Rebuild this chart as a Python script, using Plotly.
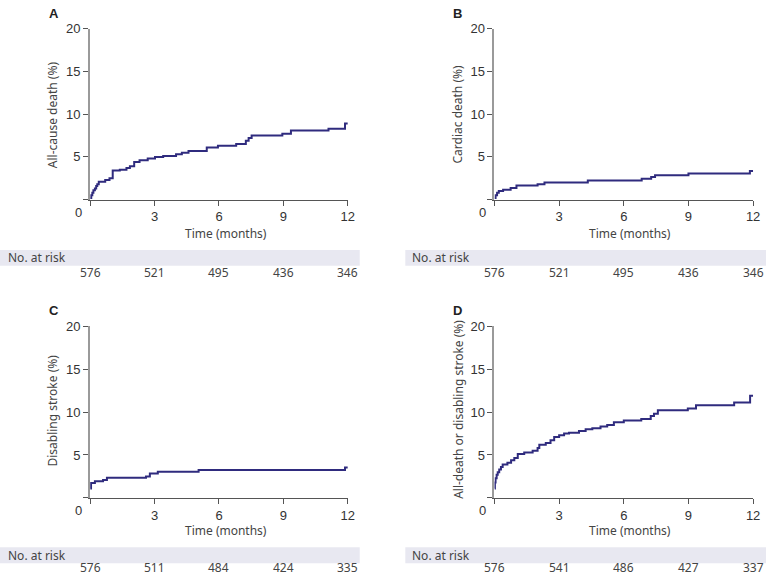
import plotly.graph_objects as go

# ---------------- data ----------------
months_ticks = [0, 3, 6, 9, 12]

tA = [0, 0.05, 0.1, 0.15, 0.22, 0.28, 0.33, 0.4, 0.7, 0.9, 1.05, 1.38, 1.69, 1.85, 2.05, 2.3, 2.68,
      3.02, 3.4, 4.0, 4.27, 4.58, 5.43, 5.95, 6.8, 7.25, 7.38, 7.52, 8.95, 9.35, 11.1, 11.87, 12.0]
yA = [0.2, 0.5, 0.8, 1.1, 1.3, 1.6, 1.8, 2.1, 2.3, 2.5, 3.4, 3.5, 3.7, 3.9, 4.4, 4.6, 4.8,
      5.0, 5.1, 5.3, 5.5, 5.7, 6.1, 6.3, 6.5, 6.9, 7.2, 7.5, 7.7, 8.1, 8.3, 8.9, 8.9]

tB = [0, 0.05, 0.12, 0.2, 0.4, 0.75, 1.02, 2.0, 2.32, 4.33, 6.83, 7.27, 7.45, 9.0, 11.85, 12.0]
yB = [0.2, 0.5, 0.8, 1.0, 1.15, 1.35, 1.65, 1.8, 2.0, 2.25, 2.45, 2.65, 2.85, 3.05, 3.35, 3.35]

tC = [0, 0.04, 0.22, 0.6, 0.78, 2.6, 2.78, 3.15, 5.05, 11.87, 12.0]
yC = [1.1, 1.75, 1.95, 2.1, 2.35, 2.5, 2.85, 3.05, 3.25, 3.55, 3.55]

tD = [0, 0.02, 0.05, 0.1, 0.15, 0.22, 0.3, 0.38, 0.6, 0.77, 0.92, 1.08, 1.38, 1.77, 2.0, 2.08,
      2.38, 2.6, 2.77, 3.0, 3.23, 3.46, 3.92, 4.23, 4.54, 4.92, 5.23, 5.54, 6.0, 6.81, 7.25, 7.4,
      7.58, 8.97, 9.35, 11.12, 11.86, 12.0]
yD = [1.1, 1.8, 2.3, 2.7, 3.0, 3.3, 3.6, 3.9, 4.1, 4.4, 4.65, 5.1, 5.3, 5.5, 5.8, 6.2,
      6.4, 6.7, 7.1, 7.3, 7.5, 7.6, 7.8, 8.0, 8.1, 8.3, 8.5, 8.8, 9.0, 9.2, 9.55, 9.8,
      10.2, 10.4, 10.8, 11.1, 11.9, 11.9]

riskA = [576, 521, 495, 436, 346]
riskB = [576, 521, 495, 436, 346]
riskC = [576, 511, 484, 424, 335]
riskD = [576, 541, 486, 427, 337]

letters = ["A", "B", "C", "D"]
ytitles = ["All-cause death (%)", "Cardiac death (%)", "Disabling stroke (%)",
           "All-death or disabling stroke (%)"]
xtitle = "Time (months)"
risk_label = "No. at risk"

# ---------------- layout helpers ----------------
W, H = 773, 576
def px_x(p): return p / W
def px_y(p): return 1 - p / H

LINE = "#2f2b7e"
TICKFONT = dict(family="Liberation Sans, Arial, sans-serif", size=13, color="#333333")
TXTFONT = dict(family="Noto Sans, sans-serif", size=12, color="#444444")
RISKFONT = dict(family="Noto Sans, sans-serif", size=12, color="#444444")

panels = [
    dict(t=tA, y=yA, risk=riskA, x0=91, x1=351, ytop=22, ybot=195, band=(0, 363, 246, 262),
         letter=(54, 7), ytit=(53, 109), xtit=(228, 229), risky=269, nar=6),
    dict(t=tB, y=yB, risk=riskB, x0=499, x1=760, ytop=22, ybot=195, band=(409, 773, 246, 262),
         letter=(462, 7), ytit=(462, 109), xtit=(636, 229), risky=269, nar=414),
    dict(t=tC, y=yC, risk=riskC, x0=91, x1=351, ytop=323, ybot=497, band=(0, 363, 547, 563),
         letter=(54, 307), ytit=(53, 409), xtit=(228, 530), risky=567, nar=6),
    dict(t=tD, y=yD, risk=riskD, x0=499, x1=760, ytop=323, ybot=497, band=(409, 773, 547, 563),
         letter=(462, 307), ytit=(462, 407), xtit=(636, 530), risky=567, nar=414),
]

fig = go.Figure()
layout = dict(width=W, height=H, margin=dict(l=0, r=0, t=0, b=0), autosize=False,
              paper_bgcolor="white", plot_bgcolor="white", showlegend=False)
annotations = []
shapes = []

for i, p in enumerate(panels):
    n = "" if i == 0 else str(i + 1)
    xa, ya = "x" + n, "y" + n
    fig.add_trace(go.Scatter(x=p["t"], y=p["y"], mode="lines", line_shape="hv",
                             line=dict(color=LINE, width=2), xaxis=xa, yaxis=ya,
                             hoverinfo="skip"))
    layout["xaxis" + n] = dict(
        domain=[px_x(p["x0"]), px_x(p["x1"])], range=[0, 12], anchor=ya,
        tickvals=months_ticks, ticktext=["" if v == 0 else str(v) for v in months_ticks],
        ticks="outside", ticklen=5, tickcolor="#555555", tickwidth=1,
        showline=True, linecolor="#555555", linewidth=1, showgrid=False, zeroline=False,
        tickfont=TICKFONT, fixedrange=True)
    layout["yaxis" + n] = dict(
        domain=[px_y(p["ybot"]), px_y(p["ytop"])], range=[0, 20], anchor=xa,
        tickvals=[0, 5, 10, 15, 20], ticktext=["", "5", "10", "15", "20"],
        ticks="outside", ticklen=5, tickcolor="#555555", tickwidth=1,
        showline=True, linecolor="#9a9a9a", linewidth=2, showgrid=False, zeroline=False,
        tickfont=TICKFONT, fixedrange=True)

    annotations.append(dict(x=px_x(p["x0"] - 12), y=px_y(p["ybot"] + 13), xref="paper", yref="paper",
                            text="0", showarrow=False, font=TICKFONT, xanchor="center", yanchor="middle"))
    annotations.append(dict(x=px_x(p["letter"][0]), y=px_y(p["letter"][1]), xref="paper", yref="paper",
                            text="<b>" + letters[i] + "</b>", showarrow=False,
                            font=dict(family="Liberation Sans, Arial, sans-serif", size=13, color="#222222"),
                            xanchor="center", yanchor="middle"))
    annotations.append(dict(x=px_x(p["ytit"][0]), y=px_y(p["ytit"][1]), xref="paper", yref="paper",
                            text=ytitles[i], textangle=-90, showarrow=False, font=TXTFONT,
                            xanchor="center", yanchor="middle"))
    annotations.append(dict(x=px_x(p["xtit"][0]), y=px_y(p["xtit"][1]), xref="paper", yref="paper",
                            text=xtitle, showarrow=False, font=TXTFONT,
                            xanchor="center", yanchor="middle"))
    bx0, bx1, by0, by1 = p["band"]
    shapes.append(dict(type="rect", xref="paper", yref="paper", x0=px_x(bx0), x1=px_x(bx1),
                       y0=px_y(by1), y1=px_y(by0), fillcolor="#e8e8f1", line=dict(width=0),
                       layer="below"))
    annotations.append(dict(x=px_x(p["nar"]), y=px_y((by0 + by1) / 2), xref="paper", yref="paper",
                            text=risk_label, showarrow=False, font=RISKFONT,
                            xanchor="left", yanchor="middle"))
    for tv, rv in zip(months_ticks, p["risk"]):
        annotations.append(dict(x=tv, y=px_y(p["risky"]), xref=xa, yref="paper",
                                text=str(rv), showarrow=False, font=RISKFONT,
                                xanchor="center", yanchor="middle"))

layout["annotations"] = annotations
layout["shapes"] = shapes
fig.update_layout(**layout)
fig.write_html("out.html", config={"displayModeBar": False},
               post_script="document.body.style.margin='0';document.body.style.overflow='hidden';"
                           "document.documentElement.style.overflow='hidden';")
